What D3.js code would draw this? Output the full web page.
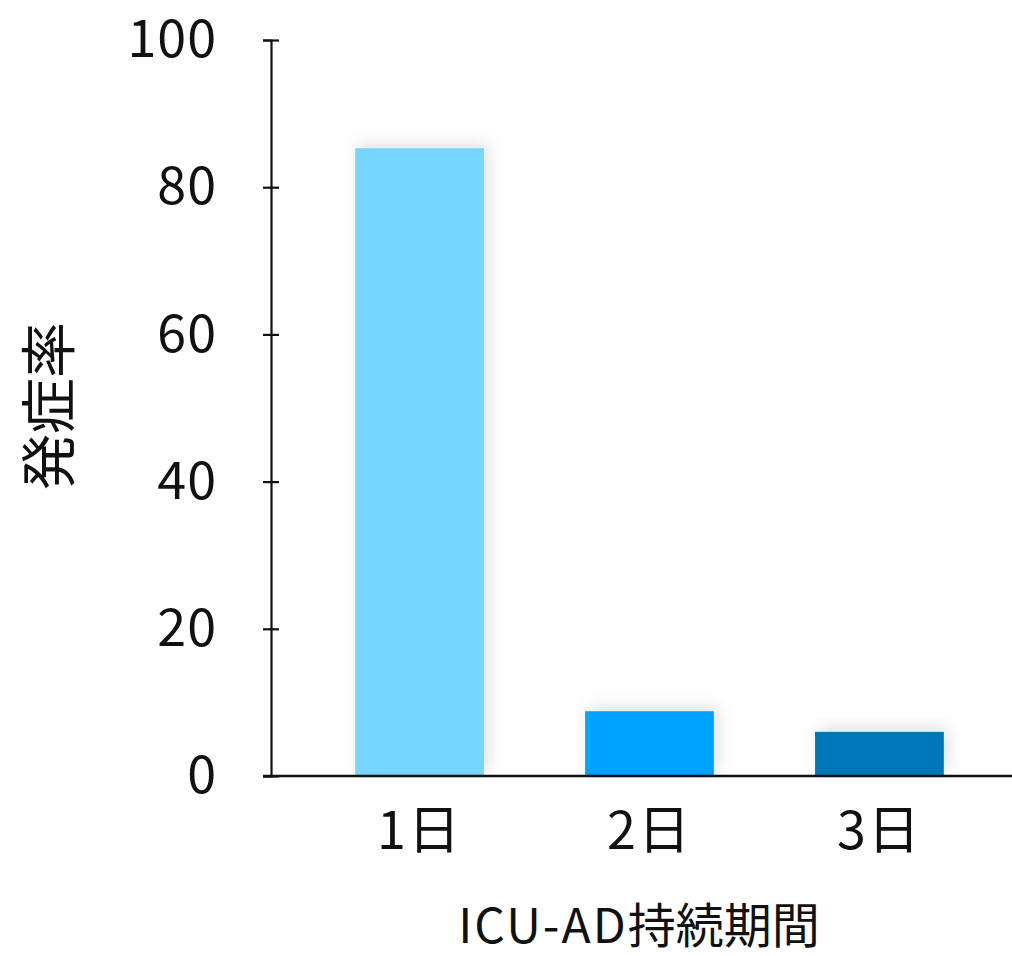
<!DOCTYPE html>
<html>
<head>
<meta charset="utf-8">
<script src="https://cdn.jsdelivr.net/npm/d3@7"></script>
<style>
  body { margin: 0; background: #fff; }
  text { font-family: "Noto Sans CJK JP", "Noto Sans", sans-serif; fill: #111; }
</style>
</head>
<body>
<div id="chart"></div>
<script>
// DATA
const categories = ["1日", "2日", "3日"];
const values = [85.3, 8.8, 6.0];
const barColors = ["#76D6FF", "#00A2FF", "#0076BA"];
const yTicks = [0, 20, 40, 60, 80, 100];
const xTitleLatin = "ICU-AD";
const xTitleJa = "持続期間";
const yTitle = "発症率";

const width = 1012;
const height = 956;

// SCALES
const xScale = d3.scaleBand()
    .domain(categories)
    .range([254, 1045])
    .padding(0.44);

const yScale = d3.scaleLinear()
    .domain([0, 100])
    .range([776, 40]);

// SVG
const svg = d3.select("#chart")
    .append("svg")
    .attr("width", width)
    .attr("height", height);

// soft shadow behind bars
const defs = svg.append("defs");
const shadow = defs.append("filter")
    .attr("id", "shadow")
    .attr("x", "-30%").attr("y", "-30%")
    .attr("width", "160%").attr("height", "160%");
shadow.append("feDropShadow")
    .attr("dx", 4)
    .attr("dy", -4)
    .attr("stdDeviation", 8)
    .attr("flood-color", "#000")
    .attr("flood-opacity", 0.12);

// BARS
svg.selectAll("rect.bar")
    .data(values)
    .join("rect")
    .attr("class", "bar")
    .attr("x", (d, i) => xScale(categories[i]))
    .attr("y", d => yScale(d))
    .attr("width", xScale.bandwidth())
    .attr("height", d => yScale(0) - yScale(d))
    .attr("fill", (d, i) => barColors[i])
    .attr("filter", "url(#shadow)");

// Y AXIS
const yAxis = d3.axisLeft(yScale)
    .tickValues(yTicks)
    .tickSize(8)
    .tickPadding(46);

const yAxisGroup = svg.append("g")
    .attr("transform", `translate(271, 0)`)
    .call(yAxis);

yAxisGroup.select(".domain")
    .attr("stroke", "#111")
    .attr("stroke-width", 2.2);
yAxisGroup.selectAll(".tick line")
    .attr("x1", -8)
    .attr("x2", 8)
    .attr("stroke", "#111")
    .attr("stroke-width", 2.2);
yAxisGroup.selectAll(".tick text")
    .attr("font-size", 52)
    .attr("letter-spacing", "1px")
    .attr("font-family", "'Noto Sans', sans-serif")
    .attr("fill", "#111");

// X AXIS
const xAxis = d3.axisBottom(xScale)
    .tickSize(0)
    .tickPadding(0);

const xAxisGroup = svg.append("g")
    .attr("transform", `translate(0, 776)`)
    .call(xAxis);

xAxisGroup.select(".domain").remove();
xAxisGroup.selectAll(".tick text")
    .attr("y", 55)
    .attr("dy", "0.35em")
    .attr("font-size", 52)
    .attr("letter-spacing", "2px")
    .attr("font-family", "'Noto Sans CJK JP', sans-serif")
    .attr("fill", "#111");

// baseline
svg.append("line")
    .attr("x1", 263)
    .attr("x2", 1012)
    .attr("y1", yScale(0))
    .attr("y2", yScale(0))
    .attr("stroke", "#111")
    .attr("stroke-width", 2.5);

// axis titles
const xt = svg.append("text")
    .attr("x", 639)
    .attr("y", 926)
    .attr("dy", "0.35em")
    .attr("text-anchor", "middle")
    .attr("font-size", 48);
xt.append("tspan").attr("letter-spacing", "2px").text(xTitleLatin);
xt.append("tspan").text(xTitleJa);

svg.append("text")
    .attr("transform", "translate(49, 406) rotate(-90)")
    .attr("dy", "0.35em")
    .attr("text-anchor", "middle")
    .attr("font-size", 56)
    .text(yTitle);
</script>
</body>
</html>
